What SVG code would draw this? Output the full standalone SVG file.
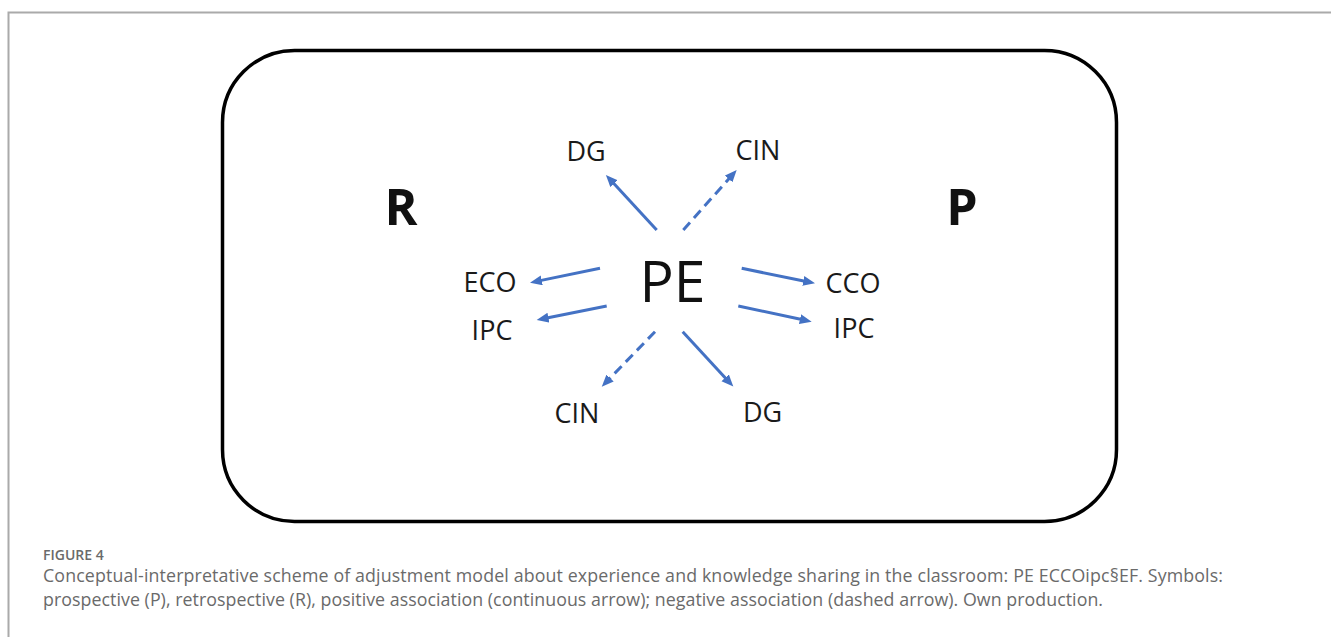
<svg xmlns="http://www.w3.org/2000/svg" width="1331" height="637" viewBox="0 0 1331 637">
  <defs>
    <marker id="ah" markerUnits="userSpaceOnUse" markerWidth="13" markerHeight="11" refX="3" refY="5" orient="auto">
      <path d="M0,0 L12,5 L0,10 z" fill="#4472C4"/>
    </marker>
    <style>
      .lbl { font-family: "Open Sans", "Liberation Sans", sans-serif; font-size: 27px; fill: #1a1a1a; text-anchor: middle; }
      .big { font-family: "Open Sans", "Liberation Sans", sans-serif; font-size: 57px; fill: #111; text-anchor: middle; }
      .side { font-family: "Open Sans", "Liberation Sans", sans-serif; font-size: 50px; font-weight: bold; fill: #111; text-anchor: middle; }
      .arr { stroke: #4472C4; stroke-width: 3; fill: none; marker-end: url(#ah); }
      .dash { stroke-dasharray: 10 6; }
      .cap { font-family: "Open Sans", "Liberation Sans", sans-serif; fill: #6a6a6a; }
    </style>
  </defs>
  <rect width="1331" height="637" fill="#ffffff"/>
  <path d="M8.5,637 L8.5,12.5 L1331,12.5" fill="none" stroke="#aaaaaa" stroke-width="2"/>

  <rect id="frame" x="222.5" y="50.5" width="894" height="471" rx="72" ry="72" fill="none" stroke="#000" stroke-width="3.5"/>

  <g id="R"><text class="side" x="401" y="225">R</text></g>
  <g id="P"><text class="side" x="962" y="225">P</text></g>
  <g id="PE"><text class="big" x="672.5" y="301.5">PE</text></g>
  <g id="DG-top"><text class="lbl" x="586" y="160.5">DG</text></g>
  <g id="CIN-top"><text class="lbl" x="758" y="160">CIN</text></g>
  <g id="ECO"><text class="lbl" x="490" y="291.5">ECO</text></g>
  <g id="IPC-left"><text class="lbl" x="492" y="340">IPC</text></g>
  <g id="CCO"><text class="lbl" x="853" y="293">CCO</text></g>
  <g id="IPC-right"><text class="lbl" x="854" y="338">IPC</text></g>
  <g id="CIN-bottom"><text class="lbl" x="577" y="423">CIN</text></g>
  <g id="DG-bottom"><text class="lbl" x="762.5" y="421.5">DG</text></g>

  <g id="connectors">
    <line class="arr" x1="656.7" y1="230" x2="612" y2="181.5"/>
    <line class="arr dash" x1="683.3" y1="230" x2="730.7" y2="176.7"/>
    <line class="arr" x1="600" y1="268.3" x2="538.8" y2="280.9"/>
    <line class="arr" x1="606.7" y1="306" x2="545.5" y2="318.2"/>
    <line class="arr" x1="741.7" y1="268.3" x2="806.2" y2="281.5"/>
    <line class="arr" x1="738.3" y1="306" x2="802.9" y2="319.8"/>
    <line class="arr dash" x1="655" y1="331.7" x2="608" y2="380.2"/>
    <line class="arr" x1="682.7" y1="331.7" x2="727.2" y2="380"/>
  </g>

  <g id="caption">
    <text class="cap" x="43" y="560" font-size="14" font-weight="600" fill="#5a5a5a">FIGURE 4</text>
    <text class="cap" x="43" y="582" font-size="17.8" textLength="1180" lengthAdjust="spacing">Conceptual-interpretative scheme of adjustment model about experience and knowledge sharing in the classroom: PE ECCOipc§EF. Symbols:</text>
    <text class="cap" x="43" y="606" font-size="17.8" textLength="1060" lengthAdjust="spacing">prospective (P), retrospective (R), positive association (continuous arrow); negative association (dashed arrow). Own production.</text>
  </g>
</svg>
